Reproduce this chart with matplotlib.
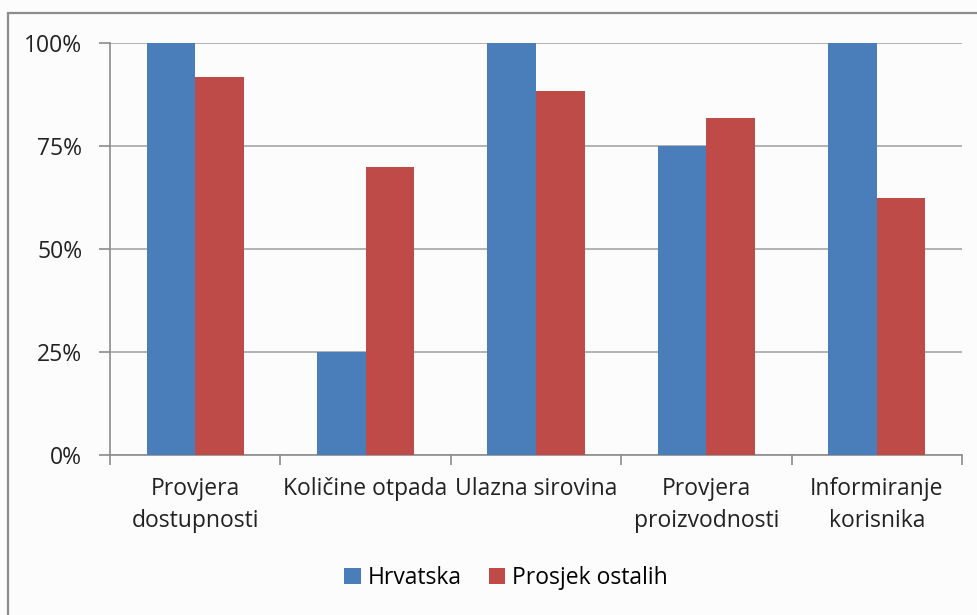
import matplotlib.pyplot as plt
from matplotlib.patches import Rectangle
import numpy as np

# data
categories = ['Provjera\ndostupnosti', 'Količine otpada', 'Ulazna sirovina',
              'Provjera\nproizvodnosti', 'Informiranje\nkorisnika']
hrvatska = [100, 25, 100, 75, 100]
prosjek = [91.7, 70, 88.3, 81.8, 62.4]
yticks = [0, 25, 50, 75, 100]
ytick_labels = ['0%', '25%', '50%', '75%', '100%']

plt.rcParams['font.family'] = ['Open Sans', 'DejaVu Sans']

W, H = 978, 615
fig = plt.figure(figsize=(W/100, H/100), dpi=100)
fig.patch.set_facecolor('#fcfcfc')

# outer chart border
fig.patches.append(Rectangle((8/W, -0.1), 1.2, (H-13)/H + 0.1, transform=fig.transFigure,
                             fill=False, edgecolor='#8c8c8c', linewidth=1.6))

ax = fig.add_axes([110/W, 1-455/H, (962-110)/W, (455-43)/H])
ax.set_facecolor('#fcfcfc')

x = np.arange(len(categories))
bw = 0.285
ax.bar(x - bw/2, hrvatska, bw, color='#4a7ebb', label='Hrvatska', zorder=3)
ax.bar(x + bw/2, prosjek, bw, color='#be4b48', label='Prosjek ostalih', zorder=3)

ax.set_xlim(-0.5, len(categories) - 0.5)
ax.set_ylim(0, 100)
ax.set_yticks(yticks)
ax.set_yticklabels(ytick_labels, fontsize=16.5, color='#222222')
ax.yaxis.grid(True, color='#a6a6a6', linewidth=1.2, zorder=0)

# category ticks at boundaries
ax.set_xticks(np.arange(-0.5, len(categories)), minor=False)
ax.set_xticklabels([])
ax.set_xticks(x, minor=True)
ax.set_xticklabels(categories, minor=True, fontsize=16.5, color='#222222', linespacing=1.45)
ax.tick_params(axis='x', which='major', length=7, color='#8c8c8c', width=1.2)
ax.tick_params(axis='x', which='minor', length=0, pad=16)
ax.tick_params(axis='y', length=8, color='#8c8c8c', width=1.2, pad=12)

for s in ['top', 'right']:
    ax.spines[s].set_visible(False)
for s in ['left', 'bottom']:
    ax.spines[s].set_color('#8c8c8c')
    ax.spines[s].set_linewidth(1.2)

fig.legend(loc='center', bbox_to_anchor=(506/W, 1-578/H), ncol=2, frameon=False,
           fontsize=16.5, handlelength=0.7, handleheight=0.7, handletextpad=0.3,
           columnspacing=1.2)

fig.savefig('out.png', dpi=100, facecolor=fig.get_facecolor())
